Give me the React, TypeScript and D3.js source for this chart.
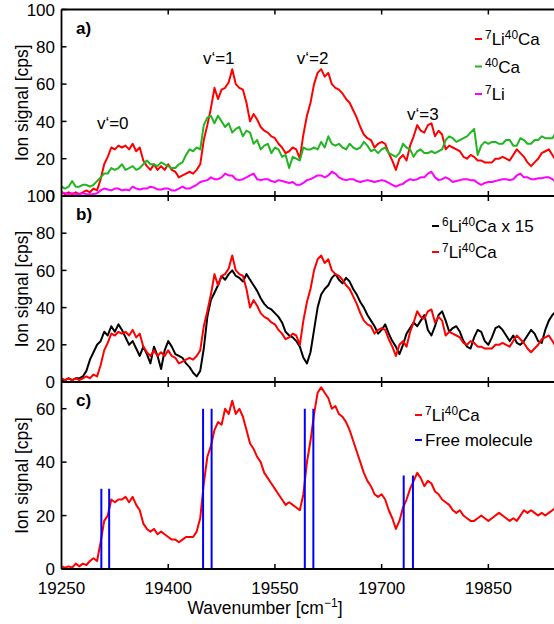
import React from 'react';
import * as d3 from 'd3';

// Wavenumber grid shared by every spectrum (cm^-1)
const wavenumbers = d3.range(19250, 19951, 5);

// 7Li40Ca ion signal [cps]
const liCa7 = [
  2, 1, 2, 1, 2, 1, 2, 3, 2, 4,
  3, 9, 17, 21, 26, 25, 27, 26, 27, 25,
  28, 24, 26, 19, 16, 14, 17, 14, 16, 14,
  17, 14, 13, 10, 11, 12, 13, 12, 14, 17,
  30, 38, 47, 58, 52, 57, 58, 61, 68, 60,
  58, 57, 50, 40, 44, 41, 37, 35, 34, 32,
  31, 28, 26, 23, 24, 26, 25, 20, 33, 43,
  50, 60, 66, 68, 64, 66, 60, 58, 57, 55,
  52, 50, 46, 42, 37, 33, 31, 30, 26, 28,
  29, 28, 23, 19, 14, 20, 22, 19, 27, 32,
  38, 35, 34, 38, 39, 32, 35, 33, 25, 27,
  26, 25, 24, 21, 20, 22, 21, 19, 19, 18,
  18, 18, 20, 20, 21, 20, 19, 22, 25, 23,
  21, 18, 16, 18, 20, 23, 24, 25, 22, 19,
  20,
];

// 40Ca ion signal [cps]
const ca40 = [
  5, 4, 5, 8, 5, 5, 6, 6, 5, 6,
  8, 10, 12, 12, 15, 14, 15, 17, 14, 15,
  16, 14, 15, 17, 19, 17, 17, 16, 18, 17,
  16, 15, 15, 17, 18, 22, 25, 24, 26, 25,
  38, 42, 43, 39, 43, 40, 37, 39, 34, 36,
  37, 32, 35, 34, 28, 30, 25, 27, 28, 23,
  26, 25, 21, 22, 15, 21, 20, 19, 26, 25,
  25, 26, 25, 29, 26, 32, 28, 27, 28, 26,
  25, 28, 26, 25, 26, 29, 27, 24, 25, 23,
  25, 26, 23, 22, 21, 23, 28, 26, 25, 21,
  24, 25, 23, 23, 24, 23, 24, 25, 30, 32,
  31, 29, 30, 31, 32, 34, 36, 22, 27, 29,
  28, 29, 29, 28, 28, 30, 30, 27, 27, 31,
  30, 28, 28, 30, 30, 32, 31, 31, 31, 34,
  33,
];

// 7Li ion signal [cps]
const li7 = [
  2, 1.5, 1, 1.5, 1, 1, 1.5, 1, 1, 1,
  1.5, 3, 4, 3.5, 3, 4, 4, 3, 3.5, 3,
  5, 4, 3.5, 4, 4, 5, 4.5, 3.5, 3.5, 4,
  4, 3, 3, 4, 5, 4, 4, 5, 6, 7.5,
  8, 8.5, 10, 9, 9, 10, 12, 11, 11, 9,
  8.5, 9, 10, 11, 12, 9, 8.5, 9, 9, 8,
  7.5, 8.5, 8, 7.5, 7, 7.5, 6, 6, 7, 8.5,
  9, 10, 11, 11, 10, 11, 13, 12, 10, 9,
  8.5, 9, 9, 8, 7.5, 8, 8.5, 8, 7.5, 8,
  8.5, 8, 7, 6, 5, 6, 6.5, 8, 9, 8.5,
  9, 10, 10, 12, 13, 10, 8.5, 9, 10, 9,
  7.5, 8, 8.5, 9, 9, 8.5, 8.5, 7, 6, 7,
  7.5, 7.5, 8, 8.5, 9, 9, 8.5, 9, 11, 12,
  10, 10, 9, 9, 9.5, 9.5, 10, 10, 9, 7.5,
  7,
];

// 6Li40Ca ion signal, scaled by 15 [cps]
const liCa6x15 = [
  1, 1, 2, 1, 2, 2, 3, 6, 12, 16,
  20, 22, 27, 25, 30, 27, 31, 28, 24, 20,
  22, 18, 14, 19, 15, 10, 19, 14, 7, 17,
  22, 19, 15, 14, 13, 10, 8, 5, 3, 6,
  18, 35, 44, 48, 52, 57, 55, 58, 60, 57,
  56, 54, 58, 55, 52, 49, 45, 42, 40, 39,
  37, 35, 32, 27, 25, 24, 22, 19, 13, 10,
  16, 28, 40, 47, 50, 52, 56, 58, 55, 53,
  56, 54, 50, 47, 43, 40, 36, 33, 30, 26,
  28, 31, 26, 22, 19, 15, 20, 26, 29, 32,
  30, 33, 36, 28, 25, 30, 36, 38, 33, 27,
  29, 30, 27, 22, 19, 18, 24, 28, 27, 22,
  20, 24, 29, 30, 28, 25, 22, 25, 21, 20,
  22, 25, 28, 26, 22, 21, 28, 33, 36, 38,
  39,
];

// 7Li40Ca spectrum shown against the free-molecule transitions [cps]
const liCa7Smoothed = [
  1, 0.5, 1, 0.5, 2, 1, 2, 1.5, 3, 4,
  3, 10, 18, 20, 26, 25, 26, 26, 27, 25,
  27, 24, 22, 17, 15, 14, 15, 13, 14, 13,
  12, 11, 11, 10, 11, 12, 12, 12, 14, 19,
  32, 42, 46, 52, 55, 54, 60, 58, 63, 58,
  60, 57, 52, 47, 45, 42, 40, 36, 34, 32,
  30, 28, 26, 24, 25, 24, 23, 22, 28, 40,
  48, 58, 66, 68, 66, 64, 60, 61, 58, 57,
  55, 52, 48, 44, 40, 36, 33, 31, 28, 27,
  28, 26, 22, 19, 15, 18, 23, 26, 30, 33,
  36, 34, 31, 33, 32, 29, 28, 26, 25, 24,
  22, 21, 22, 20, 19, 18, 18, 19, 20, 19,
  18, 19, 20, 21, 20, 19, 18, 19, 18, 20,
  22, 21, 22, 21, 20, 21, 20, 21, 22, 23,
  22,
];

// Free-molecule transition positions (cm^-1) and their drawn heights (cps)
const freeLines = [19306, 19317, 19449, 19461, 19592, 19604, 19731, 19744];
const freeHeights = [30, 30, 60, 60, 60, 60, 35, 35];

// Vibrational assignments: label, wavenumber, signal level of the text baseline
const vibLabels = ['v\u2018=0', 'v\u2018=1', 'v\u2018=2', 'v\u2018=3'];
const vibX = [19322, 19471, 19603, 19758];
const vibY = [35.8, 71, 71, 40.6];

const xTicks = [19250, 19400, 19550, 19700, 19850];
const yTicksFull = [0, 20, 40, 60, 80, 100];
const yTicksC = [0, 20, 40, 60];

const FONT = 'Liberation Sans, Arial, Helvetica, sans-serif';
const RED = '#ff0000';
const GREEN = '#22b522';
const MAGENTA = '#ff00ff';
const BLUE = '#0000ff';

const LEFT = 61.5;
const RIGHT = 559.5;
const x = d3.scaleLinear().domain([19250, 19950]).range([LEFT, RIGHT]);

type Part = [string, boolean];
const liCa7Parts: Part[] = [['7', true], ['Li', false], ['40', true], ['Ca', false]];
const ca40Parts: Part[] = [['40', true], ['Ca', false]];
const li7Parts: Part[] = [['7', true], ['Li', false]];
const liCa6Parts: Part[] = [['6', true], ['Li', false], ['40', true], ['Ca x 15', false]];
const freeParts: Part[] = [['Free molecule', false]];

function IsoText({ parts, x0, y0, size = 17 }: { parts: Part[]; x0: number; y0: number; size?: number }) {
  let shifted = false;
  return (
    <text x={x0} y={y0} fontFamily={FONT} fontSize={size} fill="#000">
      {parts.map(([s, sup], i) => {
        let dy = 0;
        if (sup && !shifted) { dy = -6; shifted = true; }
        else if (!sup && shifted) { dy = 6; shifted = false; }
        return (
          <tspan key={i} dy={dy} fontSize={sup ? size * 0.7 : size}>{s}</tspan>
        );
      })}
    </text>
  );
}

function LegendRow({ color, parts, x0, y0 }: { color: string; parts: Part[]; x0: number; y0: number }) {
  return (
    <g>
      <line x1={x0} x2={x0 + 7} y1={y0 - 6} y2={y0 - 6} stroke={color} strokeWidth={2} />
      <IsoText parts={parts} x0={x0 + 10} y0={y0} />
    </g>
  );
}

interface PanelProps {
  top: number;
  bottom: number;
  max: number;
  ticks: number[];
  label: string;
  id: string;
  children: (y: d3.ScaleLinear<number, number>) => React.ReactNode;
}

function Panel({ top, bottom, max, ticks, label, id, children }: PanelProps) {
  const y = d3.scaleLinear().domain([0, max]).range([bottom, top]);
  const yMid = (top + bottom) / 2;
  return (
    <g>
      <defs>
        <clipPath id={id}>
          <rect x={LEFT} y={top} width={RIGHT - LEFT} height={bottom - top} />
        </clipPath>
      </defs>
      <g clipPath={`url(#${id})`}>{children(y)}</g>
      {/* frame */}
      <line x1={LEFT} x2={RIGHT} y1={top} y2={top} stroke="#000" strokeWidth={1.8} />
      <line x1={LEFT} x2={RIGHT} y1={bottom} y2={bottom} stroke="#000" strokeWidth={1.8} />
      <line x1={LEFT} x2={LEFT} y1={top} y2={bottom} stroke="#000" strokeWidth={1.8} />
      {/* x ticks, inward on top and bottom */}
      {xTicks.slice(1).map((t) => (
        <g key={t}>
          <line x1={x(t)} x2={x(t)} y1={bottom} y2={bottom - 5} stroke="#000" strokeWidth={1.5} />
          <line x1={x(t)} x2={x(t)} y1={top} y2={top + 5} stroke="#000" strokeWidth={1.5} />
        </g>
      ))}
      {/* y ticks and labels */}
      {ticks.map((t) => (
        <g key={t}>
          <line x1={LEFT} x2={LEFT + 5} y1={y(t)} y2={y(t)} stroke="#000" strokeWidth={1.5} />
          <text x={55} y={y(t)} dy="0.36em" textAnchor="end" fontFamily={FONT} fontSize={17} fill="#000">
            {t}
          </text>
        </g>
      ))}
      <text
        transform={`translate(28,${yMid}) rotate(-90)`}
        textAnchor="middle"
        fontFamily={FONT}
        fontSize={17.5}
        fill="#000"
      >
        Ion signal [cps]
      </text>
      <text x={76} y={top + 24} fontFamily={FONT} fontSize={17} fontWeight="bold" fill="#000">
        {label}
      </text>
    </g>
  );
}

export default function App() {
  const lineFor = (y: d3.ScaleLinear<number, number>) =>
    d3
      .line<number>()
      .x((_, i) => x(wavenumbers[i]))
      .y((d) => y(d));

  const curve = (data: number[], y: d3.ScaleLinear<number, number>, color: string) => (
    <path
      d={lineFor(y)(data.slice(0, wavenumbers.length)) || ''}
      fill="none"
      stroke={color}
      strokeWidth={2}
      strokeLinejoin="round"
    />
  );

  return (
    <svg
      width={554}
      height={624}
      viewBox="0 0 554 624"
      style={{ position: 'absolute', left: 0, top: 0, background: '#fff' }}
    >
      <rect x={0} y={0} width={554} height={624} fill="#fff" />

      <Panel top={9.5} bottom={196} max={100} ticks={yTicksFull} label="a)" id="clip-a">
        {(y) => (
          <g>
            {curve(liCa7, y, RED)}
            {curve(ca40, y, GREEN)}
            {curve(li7, y, MAGENTA)}
            {vibLabels.map((s, i) => (
              <text
                key={s}
                x={x(vibX[i])}
                y={y(vibY[i])}
                textAnchor="middle"
                fontFamily={FONT}
                fontSize={17}
                fill="#000"
              >
                {s}
              </text>
            ))}
          </g>
        )}
      </Panel>

      <Panel top={196} bottom={382} max={100} ticks={yTicksFull} label="b)" id="clip-b">
        {(y) => (
          <g>
            {curve(liCa6x15, y, '#000')}
            {curve(liCa7, y, RED)}
          </g>
        )}
      </Panel>

      <Panel top={382} bottom={569} max={70} ticks={yTicksC} label="c)" id="clip-c">
        {(y) => (
          <g>
            {curve(liCa7Smoothed, y, RED)}
            {freeLines.map((w, i) => (
              <line
                key={w}
                x1={x(w)}
                x2={x(w)}
                y1={y(0)}
                y2={y(freeHeights[i])}
                stroke={BLUE}
                strokeWidth={2}
              />
            ))}
          </g>
        )}
      </Panel>

      {/* legends */}
      <LegendRow color={RED} parts={liCa7Parts} x0={475} y0={45} />
      <LegendRow color={GREEN} parts={ca40Parts} x0={475} y0={72.5} />
      <LegendRow color={MAGENTA} parts={li7Parts} x0={475} y0={100} />

      <LegendRow color="#000" parts={liCa6Parts} x0={432} y0={232} />
      <LegendRow color={RED} parts={liCa7Parts} x0={432} y0={258} />

      <LegendRow color={RED} parts={liCa7Parts} x0={415} y0={421} />
      <LegendRow color={BLUE} parts={freeParts} x0={415} y0={446} />

      {/* x tick labels */}
      {xTicks.map((t) => (
        <text key={t} x={x(t)} y={594} textAnchor="middle" fontFamily={FONT} fontSize={17} fill="#000">
          {t}
        </text>
      ))}
      <text x={265} y={614} textAnchor="middle" fontFamily={FONT} fontSize={17.5} fill="#000">
        Wavenumber [cm
        <tspan dy={-7} fontSize={12}>{'\u22121'}</tspan>
        <tspan dy={7}>]</tspan>
      </text>
    </svg>
  );
}
